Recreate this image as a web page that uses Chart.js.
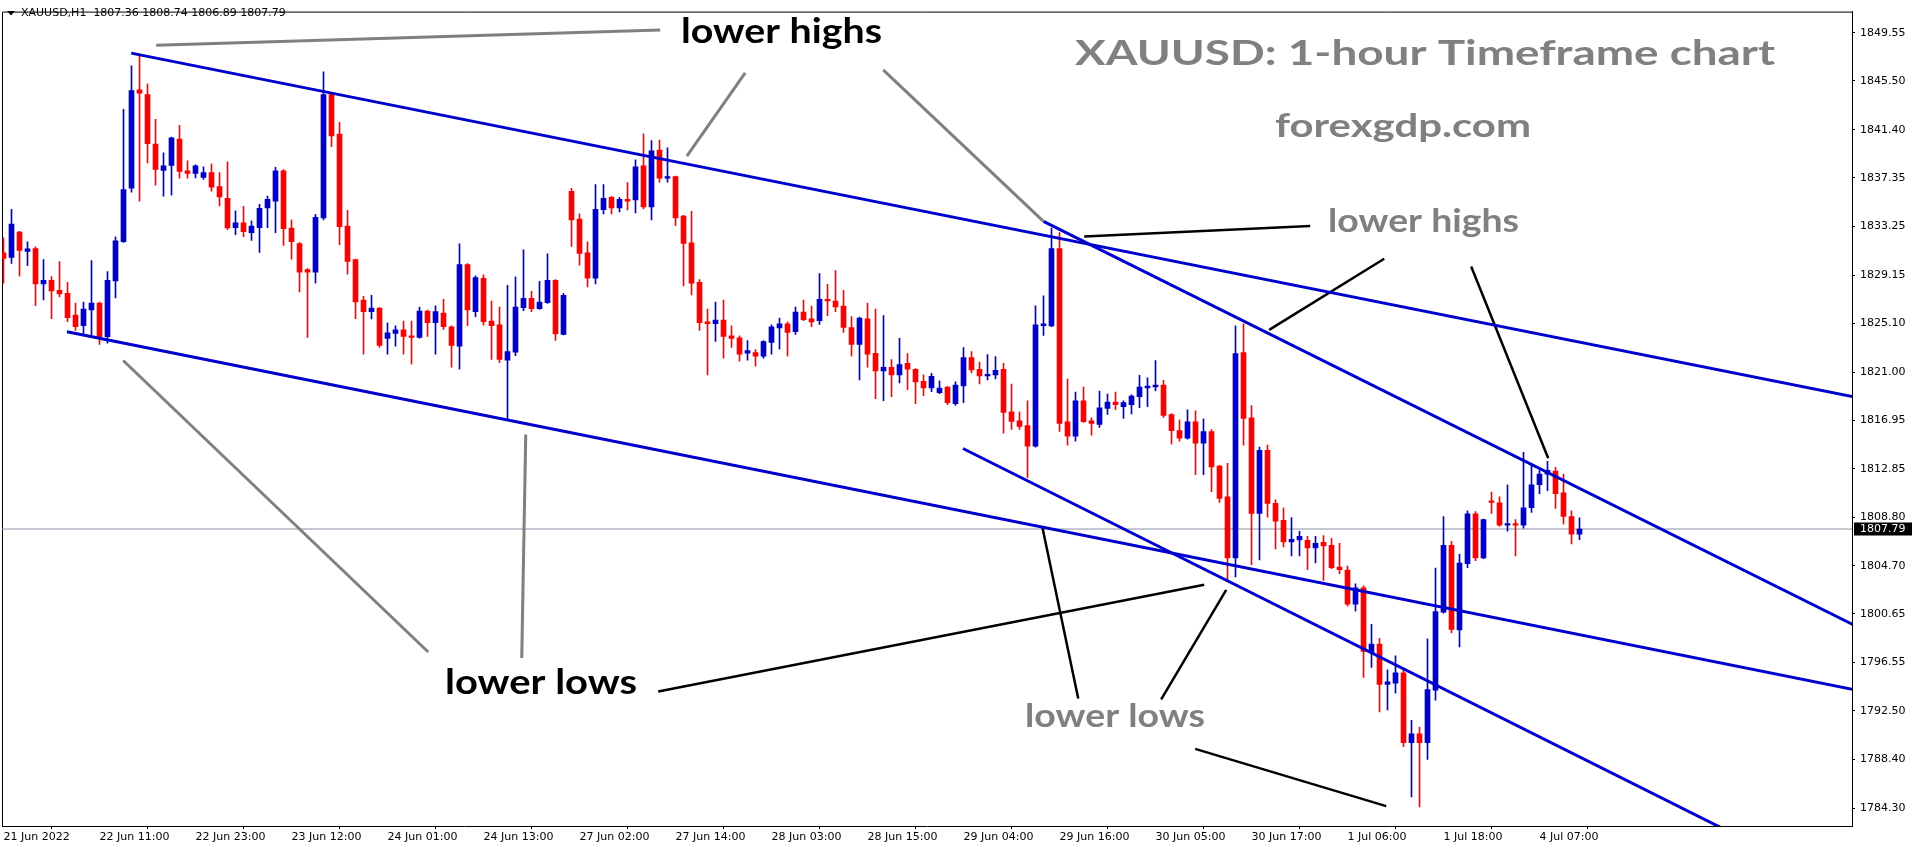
<!DOCTYPE html>
<html><head><meta charset="utf-8">
<script src="https://cdn.jsdelivr.net/npm/chart.js"></script>
<style>html,body{margin:0;padding:0;background:#fff;overflow:hidden}#wrap{position:relative;width:1916px;height:850px}</style>
</head><body><div id="wrap"><canvas id="c"></canvas></div>
<script>
// ---- data (bar index on x, price on y) ----
const tickBars = [0,12,24,36,48,60,72,84,96,108,120,132,144,156,168,180,192];
const tickLabels = ["21 Jun 2022","22 Jun 11:00","22 Jun 23:00","23 Jun 12:00","24 Jun 01:00","24 Jun 13:00","27 Jun 02:00","27 Jun 14:00","28 Jun 03:00","28 Jun 15:00","29 Jun 04:00","29 Jun 16:00","30 Jun 05:00","30 Jun 17:00","1 Jul 06:00","1 Jul 18:00","4 Jul 07:00"];
const priceTicks = [1849.55,1845.50,1841.40,1837.35,1833.25,1829.15,1825.10,1821.00,1816.95,1812.85,1808.80,1804.70,1800.65,1796.55,1792.50,1788.40,1784.30];

const opens = [1831.04,1830.65,1832.79,1831.15,1831.40,1828.41,1828.71,1827.88,1827.63,1825.80,1824.91,1826.24,1826.80,1823.97,1828.66,1831.98,1836.47,1844.76,1844.35,1840.19,1837.97,1838.39,1840.61,1837.94,1837.72,1837.39,1837.78,1836.61,1835.62,1833.15,1833.56,1832.73,1833.15,1834.81,1835.39,1837.94,1833.12,1831.82,1829.63,1829.40,1833.98,1844.35,1841.02,1833.29,1830.46,1827.05,1826.08,1826.38,1823.83,1824.25,1824.55,1824.05,1823.92,1826.13,1825.16,1825.97,1824.80,1823.17,1830.04,1826.08,1828.88,1825.30,1824.97,1822.00,1822.67,1826.41,1827.21,1826.33,1826.83,1828.71,1824.17,1836.20,1833.87,1831.04,1828.91,1834.67,1835.70,1834.81,1835.53,1835.48,1838.36,1834.89,1839.69,1837.31,1837.44,1834.12,1831.87,1828.55,1825.22,1825.08,1825.38,1824.05,1823.89,1822.58,1822.64,1822.34,1823.50,1824.72,1825.05,1824.39,1826.05,1825.47,1825.33,1827.13,1826.97,1826.55,1824.75,1823.33,1825.47,1822.58,1821.09,1821.39,1820.76,1821.73,1821.23,1820.23,1819.67,1819.26,1819.73,1818.34,1819.84,1822.22,1821.23,1820.67,1820.76,1821.23,1817.65,1816.90,1816.49,1814.77,1824.91,1824.89,1831.40,1816.82,1815.60,1818.57,1816.90,1816.60,1817.93,1818.48,1818.09,1818.26,1818.93,1819.67,1819.76,1819.90,1817.43,1816.07,1815.43,1816.82,1815.02,1815.99,1813.08,1810.50,1805.37,1822.64,1817.15,1809.11,1814.41,1809.95,1808.53,1806.70,1806.87,1806.84,1806.20,1806.67,1806.42,1804.59,1804.34,1801.46,1802.85,1797.38,1798.11,1794.72,1794.81,1795.69,1789.82,1790.56,1789.82,1794.22,1800.79,1806.42,1799.30,1804.87,1809.08,1805.37,1810.16,1810.00,1808.11,1808.25,1808.11,1809.58,1811.52,1812.41,1812.66,1810.83,1808.83,1807.36];
const highs = [1832.29,1834.70,1832.85,1831.96,1831.54,1830.46,1829.04,1830.29,1828.55,1826.80,1826.88,1830.38,1826.88,1829.46,1832.37,1843.10,1846.76,1847.76,1845.26,1842.27,1839.44,1840.77,1841.77,1838.78,1838.44,1838.28,1838.53,1837.78,1838.69,1834.56,1834.95,1833.73,1835.12,1835.81,1838.22,1838.03,1833.81,1831.90,1829.70,1834.28,1846.26,1844.43,1842.02,1834.62,1830.50,1827.38,1827.46,1826.42,1825.14,1824.89,1825.30,1825.30,1826.47,1826.22,1826.58,1827.13,1824.89,1831.79,1830.13,1829.10,1829.18,1826.97,1826.47,1828.30,1829.02,1831.29,1827.80,1828.63,1830.96,1828.79,1827.63,1836.47,1834.31,1831.95,1836.78,1836.78,1835.78,1835.70,1836.95,1838.86,1841.05,1840.47,1840.52,1839.86,1837.50,1834.20,1834.53,1828.79,1826.30,1826.88,1827.05,1824.89,1824.05,1823.64,1822.89,1823.64,1824.97,1825.55,1825.22,1826.47,1827.05,1826.55,1829.29,1828.38,1829.54,1827.88,1825.66,1825.63,1826.80,1826.30,1825.75,1822.06,1823.83,1822.56,1821.30,1820.76,1820.89,1820.26,1819.78,1820.17,1823.06,1822.72,1821.84,1822.47,1822.31,1821.73,1819.98,1817.65,1818.57,1826.58,1827.41,1833.12,1832.73,1820.40,1819.31,1819.73,1817.15,1819.40,1819.15,1819.31,1818.57,1819.09,1820.73,1820.51,1821.97,1820.31,1817.50,1816.99,1817.82,1817.73,1817.07,1816.15,1813.15,1813.33,1824.89,1825.05,1818.18,1814.68,1814.85,1810.25,1809.58,1808.75,1807.59,1807.17,1807.17,1807.25,1807.00,1806.59,1804.68,1803.18,1803.01,1799.77,1798.60,1795.94,1797.11,1795.89,1791.70,1791.12,1798.55,1804.51,1808.83,1806.75,1805.67,1809.33,1809.25,1808.62,1810.91,1810.50,1811.50,1808.58,1814.24,1813.33,1812.74,1813.49,1812.99,1812.41,1809.33,1808.74];
const lows = [1828.49,1830.15,1829.07,1829.96,1826.58,1827.08,1825.50,1827.33,1825.25,1824.50,1824.25,1824.05,1823.33,1823.44,1827.24,1831.90,1836.14,1835.39,1838.61,1836.72,1835.81,1835.89,1837.31,1837.31,1837.33,1837.22,1836.23,1834.98,1832.98,1832.57,1832.40,1832.07,1831.07,1833.15,1832.73,1831.65,1830.49,1827.74,1823.92,1828.49,1833.81,1839.97,1831.73,1829.24,1825.50,1822.50,1825.47,1823.08,1822.50,1823.17,1822.50,1821.67,1823.85,1824.00,1822.50,1824.58,1821.42,1821.25,1824.91,1825.66,1824.94,1822.06,1821.78,1816.98,1822.39,1826.16,1826.08,1826.28,1826.78,1823.67,1824.12,1831.57,1829.99,1828.16,1828.41,1834.31,1834.31,1834.48,1834.64,1834.39,1834.73,1833.81,1836.97,1836.97,1833.31,1828.24,1827.49,1824.50,1820.76,1823.58,1822.17,1823.08,1821.92,1822.00,1821.50,1822.17,1822.50,1822.92,1822.34,1824.17,1825.33,1824.83,1825.00,1825.75,1826.08,1824.33,1822.34,1820.34,1821.42,1818.76,1818.59,1818.93,1820.09,1819.51,1818.34,1819.01,1819.34,1819.18,1818.26,1818.20,1818.43,1820.92,1820.01,1820.34,1820.42,1815.85,1816.18,1816.18,1812.11,1814.68,1824.08,1824.83,1816.01,1814.85,1815.18,1816.76,1815.68,1816.35,1817.43,1817.84,1817.10,1817.48,1818.01,1818.09,1819.42,1817.18,1814.93,1815.18,1815.35,1812.36,1812.36,1810.94,1810.03,1803.43,1803.76,1814.85,1804.79,1805.20,1808.78,1806.12,1806.28,1805.53,1805.53,1804.37,1804.93,1803.46,1804.45,1804.04,1801.29,1800.88,1795.31,1796.14,1792.39,1792.56,1793.97,1789.48,1785.24,1784.41,1788.40,1793.39,1800.71,1799.05,1797.88,1804.54,1805.12,1805.30,1809.11,1808.03,1807.61,1805.53,1807.86,1809.19,1810.77,1811.02,1809.53,1808.20,1806.53,1806.89];
const closes = [1830.57,1833.45,1831.23,1831.37,1828.41,1828.71,1827.83,1827.58,1825.58,1824.83,1826.30,1826.80,1823.97,1828.71,1832.04,1836.36,1844.68,1844.46,1840.22,1838.05,1838.36,1840.72,1837.89,1837.72,1838.36,1837.78,1836.56,1835.73,1833.12,1833.56,1832.82,1833.29,1834.78,1835.53,1837.94,1833.06,1831.98,1829.40,1829.40,1834.03,1844.35,1840.88,1833.23,1830.32,1826.91,1826.08,1826.38,1823.25,1824.30,1824.55,1824.00,1823.92,1826.13,1825.16,1826.08,1824.83,1823.25,1830.04,1826.24,1828.96,1825.25,1824.91,1822.06,1822.72,1826.47,1827.21,1826.33,1826.88,1828.71,1824.22,1827.46,1833.81,1830.98,1828.91,1834.70,1835.61,1834.81,1835.53,1835.39,1838.28,1834.89,1839.61,1837.31,1837.44,1833.98,1831.82,1828.49,1825.16,1825.08,1825.38,1824.00,1823.83,1822.50,1822.81,1822.34,1823.56,1824.80,1825.05,1824.33,1826.05,1825.41,1825.22,1827.13,1826.99,1826.49,1824.75,1823.33,1825.55,1822.50,1821.09,1821.39,1820.76,1821.64,1821.25,1820.17,1819.67,1820.64,1819.65,1818.43,1819.90,1822.22,1821.17,1820.67,1820.81,1821.14,1817.60,1816.85,1816.43,1814.77,1824.97,1825.05,1831.40,1816.68,1815.60,1818.57,1816.82,1816.68,1817.98,1818.48,1818.26,1818.43,1818.98,1819.73,1819.81,1819.90,1817.35,1816.07,1815.43,1816.82,1815.02,1815.99,1813.02,1810.36,1805.37,1822.56,1817.10,1809.11,1814.41,1809.94,1808.45,1806.70,1806.92,1807.17,1806.20,1806.59,1806.37,1804.54,1804.37,1801.46,1802.85,1797.50,1798.11,1794.72,1794.94,1795.69,1789.82,1790.56,1789.82,1794.28,1800.85,1806.42,1799.35,1804.93,1809.08,1805.37,1808.58,1810.03,1808.11,1808.25,1808.11,1809.58,1811.50,1812.41,1812.74,1810.77,1808.86,1807.36,1807.79];

const symbolInfo = "XAUUSD,H1  1807.36 1808.74 1806.89 1807.79";
const lastPrice = 1807.79;

// drawn objects: [barIndex1, price1, barIndex2, price2]
const blueLines = [[15.96,1847.84,240,1817.74],[7.93,1824.39,240,1793.11],[130.0,1833.68,240,1796.79],[119.93,1814.57,240,1774.14]];
const grayLines = [[19.09,1848.51,82.09,1849.79],[85.42,1839.17,92.71,1846.18],[109.96,1846.43,129.96,1833.70],[14.96,1821.97,53.09,1797.44],[65.28,1815.74,64.78,1796.94]];
const blackLines = [[135.09,1832.40,163.34,1833.29],[158.21,1824.55,172.59,1830.54],[183.46,1829.88,193.09,1813.74],[81.84,1794.11,150.09,1803.10],[129.84,1808.00,134.34,1793.53],[144.71,1793.45,152.84,1802.68],[148.96,1789.29,172.84,1784.47]];

const notes = [
  {text:'lower highs', x:681, base:43, w:201, size:34, color:'#000000'},
  {text:'XAUUSD: 1-hour Timeframe chart', x:1075, base:65, w:700, size:35, color:'#808080'},
  {text:'forexgdp.com', x:1275, base:137, w:256, size:32, color:'#808080'},
  {text:'lower highs', x:1328, base:232, w:191, size:33, color:'#808080'},
  {text:'lower lows', x:445, base:694, w:192, size:34, color:'#000000'},
  {text:'lower lows', x:1025, base:727, w:180, size:33, color:'#808080'}
];

// ---- styles ----
const BULL = '#0000cd', BEAR = '#ff0000';
const candleColors = opens.map((o,i)=> closes[i] >= o ? BULL : BEAR);

const datasets = [
  {type:'bar', data: opens.map((o,i)=>({x:i, y:[o, closes[i]]})), backgroundColor:candleColors, borderWidth:0, barThickness:5, minBarLength:1, grouped:false, order:2},
  {type:'bar', data: opens.map((o,i)=>({x:i, y:[lows[i], highs[i]]})), backgroundColor:candleColors, borderWidth:0, barThickness:1, grouped:false, order:3},
  {type:'line', data:[{x:-1,y:lastPrice},{x:240,y:lastPrice}], borderColor:'#8a95a5', borderWidth:1, pointRadius:0, order:10, clip:0}
];
function addLines(arr, color, width){
  arr.forEach(l=>datasets.push({type:'line', data:[{x:l[0],y:l[1]},{x:l[2],y:l[3]}], borderColor:color, borderWidth:width, pointRadius:0, tension:0, fill:false, order:0, clip:0}));
}
addLines(blueLines, '#0000cd', 3);
addLines(grayLines, '#808080', 3);
addLines(blackLines, '#000000', 2.5);

const overlay = {
  id:'overlay',
  beforeDatasetsDraw(chart){
    const {ctx, chartArea:a} = chart;
    ctx.save();
    ctx.strokeStyle = '#000'; ctx.lineWidth = 1;
    ctx.beginPath();
    ctx.moveTo(a.left+0.5, a.bottom); ctx.lineTo(a.left+0.5, a.top+0.5); ctx.lineTo(a.right, a.top+0.5);
    ctx.stroke();
    ctx.restore();
  },
  afterDraw(chart){
    const {ctx} = chart;
    ctx.save();
    // header
    ctx.fillStyle = '#000';
    ctx.beginPath(); ctx.moveTo(7,11); ctx.lineTo(15,11); ctx.lineTo(11,15.5); ctx.closePath(); ctx.fill();
    ctx.font = '11px "DejaVu Sans"'; ctx.textBaseline = 'middle'; ctx.textAlign = 'left';
    ctx.fillText(symbolInfo, 21, 13.5);
    // notes
    notes.forEach(n=>{
      ctx.font = 'bold ' + n.size + 'px Lato';
      ctx.fillStyle = n.color; ctx.textBaseline = 'alphabetic';
      const w = ctx.measureText(n.text).width;
      ctx.save(); ctx.translate(n.x, n.base); ctx.scale(n.w / w, 1); ctx.fillText(n.text, 0, 0); ctx.restore();
    });
    // last price label
    const ys = chart.scales.y, yp = ys.getPixelForValue(lastPrice);
    const a = chart.chartArea;
    ctx.fillStyle = '#000';
    ctx.fillRect(a.right + 2, Math.round(yp) - 6.5, 58, 13);
    ctx.fillStyle = '#fff'; ctx.font = '11px "DejaVu Sans"'; ctx.textBaseline = 'middle';
    ctx.fillText(lastPrice.toFixed(2), a.right + 8, Math.round(yp) + 0.5);
    ctx.restore();
  }
};

new Chart(document.getElementById('c'), {
  type:'bar',
  data:{datasets},
  options:{
    responsive:true, maintainAspectRatio:false, animation:false, events:[],
    layout:{padding:{left:2, top:2, right:0, bottom:0}},
    plugins:{legend:{display:false}, tooltip:{enabled:false}},
    scales:{
      x:{type:'linear', min:-0.1875, max:231.0625, offset:false,
        afterBuildTicks:s=>{ s.ticks = tickBars.map(v=>({value:v})); },
        ticks:{autoSkip:false, maxRotation:0, minRotation:0, align:'start', padding:2, color:'#000', font:{family:'DejaVu Sans', size:11},
          callback:(v)=>{ const k = tickBars.indexOf(v); return k >= 0 ? tickLabels[k] : ''; }},
        grid:{display:true, drawOnChartArea:false, drawTicks:true, tickLength:3, color:'#000'},
        border:{display:true, color:'#000', width:1},
        afterFit:s=>{ s.height = 24; }
      },
      y:{type:'linear', position:'right', min:1782.80, max:1851.334,
        afterBuildTicks:s=>{ s.ticks = priceTicks.map(v=>({value:v})); },
        ticks:{padding:5, color:'#000', font:{family:'DejaVu Sans', size:11}, callback:v=>Number(v).toFixed(2)},
        grid:{display:true, drawOnChartArea:false, drawTicks:true, tickLength:3, color:'#000'},
        border:{display:true, color:'#000', width:1},
        afterFit:s=>{ s.width = 64; }
      }
    }
  },
  plugins:[overlay]
});
</script>
</body></html>
